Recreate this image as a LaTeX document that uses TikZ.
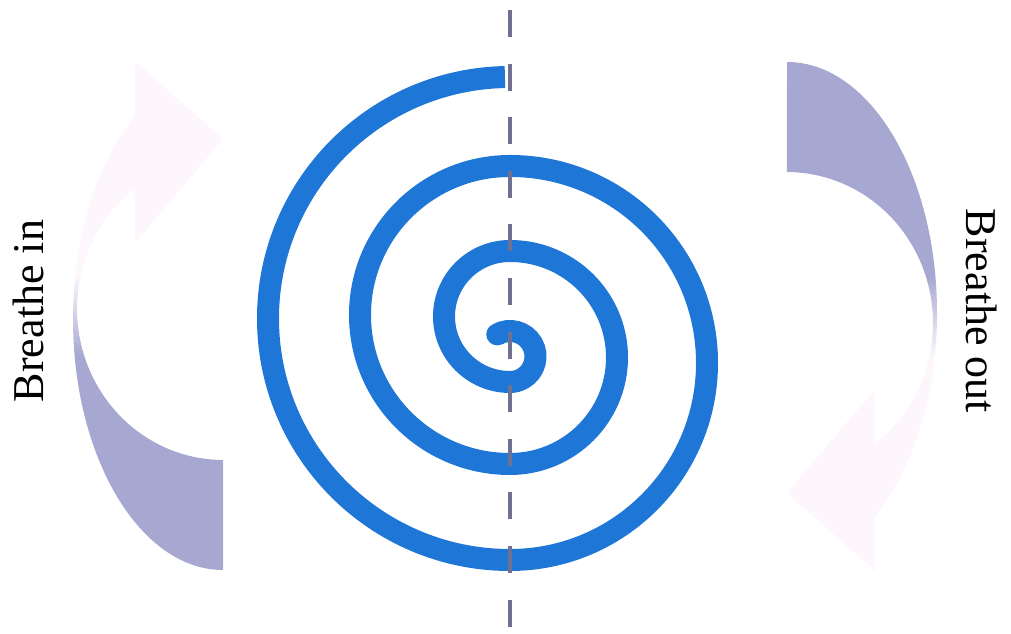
\documentclass[tikz,border=0pt]{standalone}
\usepackage{fontspec}
\setmainfont{Liberation Serif}
\definecolor{breathBlue}{RGB}{30,118,214}
\definecolor{breathViolet}{RGB}{166,168,210}
\definecolor{breathPink}{RGB}{253,247,253}
\definecolor{midGray}{RGB}{112,112,146}
\pgfdeclareverticalshading{breathfade}{100bp}{color(0bp)=(breathPink); color(46bp)=(breathPink); color(54bp)=(breathViolet); color(100bp)=(breathViolet)}

\begin{document}
\begin{tikzpicture}[x=1pt, y=1pt,
    spiral/.style={draw=breathBlue, line width=22pt},
    midline/.style={draw=midGray, line width=4pt, dash pattern=on 27pt off 26.6pt},
    breathlabel/.style={font=\fontsize{44}{50}\selectfont, inner sep=0pt},
    fadearrow/.style={shading=breathfade}
  ]
  \useasboundingbox (0,0) rectangle (1011,633);
  % faded curved arrows
  \shade[fadearrow] (787,571) arc[start angle=90, end angle=-54, x radius=150, y radius=251]
    -- (875,62) -- (787,140) -- (875,244) -- (875,189.5)
    arc[start angle=-52.9, end angle=90, x radius=146, y radius=151] -- cycle;
  \shade[fadearrow, shading angle=180] (223,63) arc[start angle=270, end angle=126, x radius=150, y radius=251]
    -- (135,572) -- (223,494) -- (135,390) -- (135,444.5)
    arc[start angle=127.1, end angle=270, x radius=146, y radius=151] -- cycle;
  % spiral
  \fill[breathBlue] (497.25,298.6) circle (11);
  \draw[spiral] (497.25,298.6) arc[start angle=120, end angle=-90, radius=25.5]
    arc[start angle=-90, end angle=-270, x radius=66, y radius=65.5]
    arc[start angle=90, end angle=-90, x radius=107, y radius=106.5]
    arc[start angle=-90, end angle=-270, x radius=150, y radius=149]
    arc[start angle=90, end angle=-90, x radius=197, y radius=197]
    arc[start angle=-90, end angle=-268.8, x radius=242, y radius=241.5];
  % dashed midline
  \coordinate (midtop) at (510,623);
  \coordinate (midbottom) at (510,6);
  \draw[midline] (midtop) -- (midbottom);
  \node[breathlabel, rotate=90] (breathein) at (28,322) {Breathe in};
  \node[breathlabel, rotate=-90] (breatheout) at (982,322) {Breathe out};
\end{tikzpicture}
\end{document}
